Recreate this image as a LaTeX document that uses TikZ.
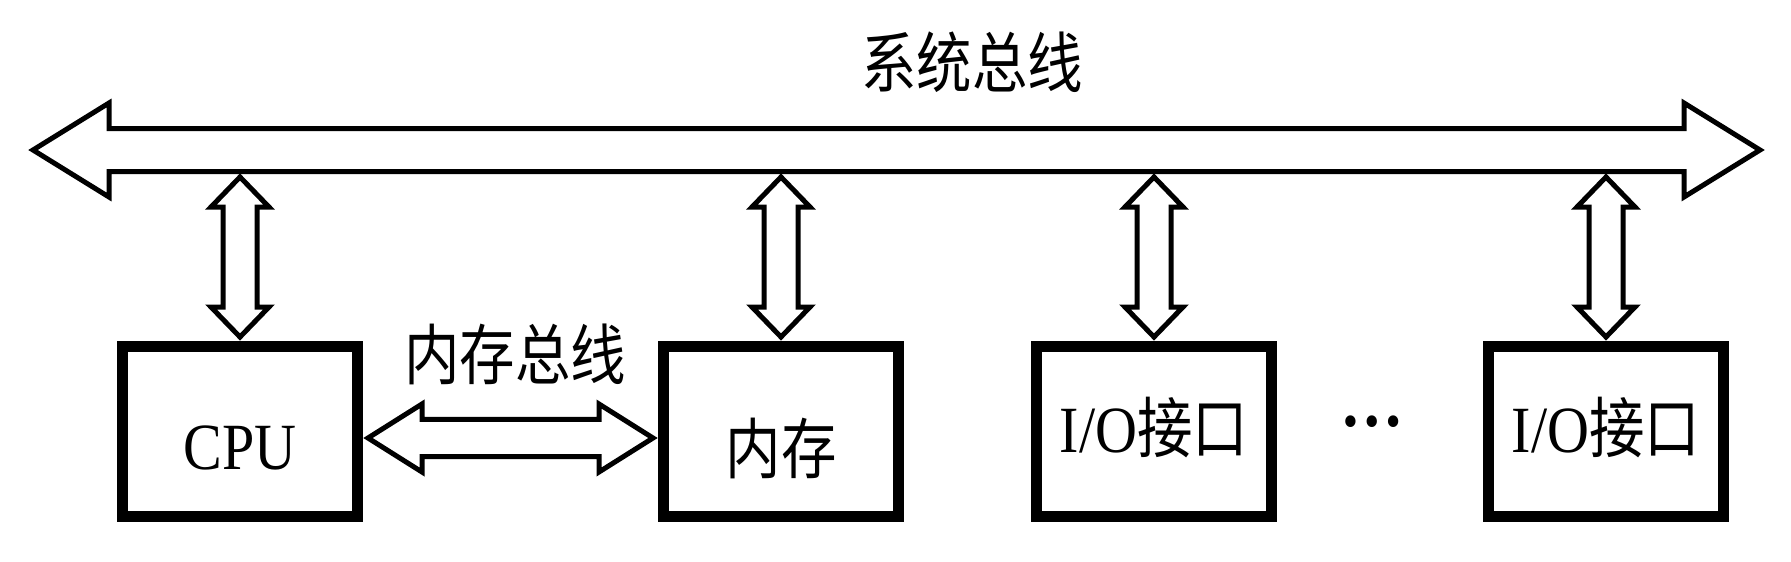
\documentclass[tikz,border=0pt]{standalone}
\usepackage{fontspec}
\setmainfont{Liberation Serif}[FakeStretch=0.88]
\newfontfamily\cjk{Noto Sans CJK SC}[FakeStretch=0.84]
\usetikzlibrary{positioning, calc}
\tikzset{
    unitnode/.style={rectangle, draw=black, line width=11pt, minimum width=235pt, minimum height=170pt, inner sep=0pt, align=center, font=\fontsize{66}{70}\selectfont},
    buslabel/.style={inner sep=0pt, font=\cjk\fontsize{66}{70}\selectfont},
    busline/.style={draw=black, fill=white, line width=5pt},
}
% hollow double arrow lying flat: tip #1 to tip #2, shaft half #3, head half #4, head length #5
\newcommand{\hbus}[5]{%
    \draw[busline] let \p1=(#1), \p2=(#2) in
        (\x1,\y1) -- (\x1+#5,\y1+#4) -- (\x1+#5,\y1+#3) -- (\x2-#5,\y1+#3) -- (\x2-#5,\y2+#4)
        -- (\x2,\y2) -- (\x2-#5,\y2-#4) -- (\x2-#5,\y2-#3) -- (\x1+#5,\y1-#3) -- (\x1+#5,\y1-#4) -- cycle;}
% hollow double arrow standing up: from the top of box #1 to the bus edge #2
\newcommand{\vlink}[2]{%
    \draw[busline] let \p1=([yshift=3.5pt]#1.north), \p2=(#1.north |- #2) in
        (\x1,\y1) -- (\x1+29pt,\y1+30pt) -- (\x1+17pt,\y1+30pt) -- (\x1+17pt,\y2-30pt) -- (\x1+29pt,\y2-30pt)
        -- (\x1,\y2) -- (\x1-29pt,\y2-30pt) -- (\x1-17pt,\y2-30pt) -- (\x1-17pt,\y1+30pt) -- (\x1-29pt,\y1+30pt) -- cycle;}

\begin{document}
\begin{tikzpicture}[x=1pt, y=-1pt]
        \useasboundingbox (0,0) rectangle (1791,562);

        \node[buslabel] (sysbus) at (972,62) {系统总线};
        \coordinate (busL) at (33,150);
        \coordinate (busR) at (1760,150);
        \coordinate (busedge) at (0,177);
        \hbus{busL}{busR}{21.5pt}{47pt}{76pt}

        \node[unitnode, text height=76pt, text depth=0pt] (cpu) at (240,431) {CPU};
        \node[unitnode, right=295pt of cpu, text height=84pt, text depth=0pt] (mem) {\cjk 内存};
        \node[unitnode, right=127pt of mem, text height=50pt, text depth=8pt] (io1) {I/O{\cjk 接口}};
        \node[unitnode, right=206pt of io1, text height=50pt, text depth=8pt] (io2) {I/O{\cjk 接口}};
        \node[inner sep=0pt, font=\bfseries\fontsize{72}{76}\selectfont] (dots) at (1372,422) {…};

        \node[buslabel] (membus) at (515,354) {内存总线};
        \hbus{[xshift=5pt,yshift=-7pt]cpu.east}{[xshift=-5pt,yshift=-7pt]mem.west}{18.7pt}{34pt}{54pt}

        \vlink{cpu}{busedge}
        \vlink{mem}{busedge}
        \vlink{io1}{busedge}
        \vlink{io2}{busedge}
    \end{tikzpicture}
\end{document}
